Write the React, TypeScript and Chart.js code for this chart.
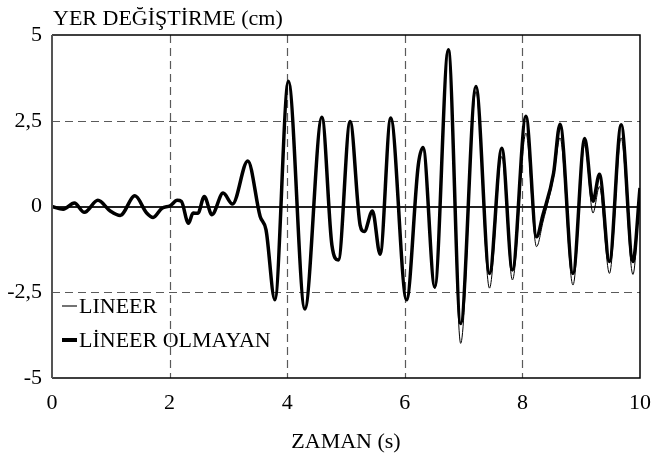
import React, { useEffect, useRef } from "react";
import { Chart, registerables } from "chart.js";

Chart.register(...registerables);

// Time (s)
const timeValues = [
  0, 0.19, 0.38, 0.55, 0.78, 0.99, 1.16, 1.41, 1.61, 1.72, 1.87, 2.01, 2.13, 2.2,
  2.32, 2.4, 2.48, 2.59, 2.72, 2.91, 3.07, 3.33, 3.54, 3.64, 3.79, 4.02, 4.3,
  4.59, 4.76, 4.87, 5.07, 5.24, 5.31, 5.45, 5.58, 5.76, 6.03, 6.23, 6.31, 6.51,
  6.74, 6.95, 7.21, 7.44, 7.65, 7.83, 8.06, 8.24, 8.35, 8.53, 8.64, 8.86, 9.06,
  9.2, 9.31, 9.48, 9.68, 9.88, 10.0,
];

// Nonlinear displacement (cm)
const nonlinearValues = [
  0, -0.08, 0.1, -0.17, 0.18, -0.13, -0.26, 0.31, -0.19, -0.32, -0.05, 0.02,
  0.18, 0.15, -0.49, -0.19, -0.2, 0.29, -0.24, 0.39, 0.07, 1.33, -0.29, -0.68,
  -2.72, 3.65, -2.99, 2.6, -1.12, -1.56, 2.48, -0.54, -0.73, -0.13, -1.39,
  2.58, -2.72, 1.22, 1.72, -2.34, 4.57, -3.41, 3.5, -1.95, 1.7, -1.85, 2.63,
  -0.88, -0.24, 0.97, 2.4, -1.95, 1.98, 0.15, 0.94, -1.6, 2.38, -1.6, 0.54,
];

// Linear displacement (cm)
const linearValues = [
  0, -0.08, 0.1, -0.17, 0.18, -0.13, -0.26, 0.31, -0.19, -0.32, -0.05, 0.02,
  0.18, 0.15, -0.49, -0.19, -0.2, 0.29, -0.24, 0.39, 0.07, 1.33, -0.29, -0.68,
  -2.72, 3.65, -2.99, 2.6, -1.12, -1.56, 2.48, -0.54, -0.73, -0.13, -1.39,
  2.58, -2.72, 1.22, 1.72, -2.4, 4.55, -3.99, 3.35, -2.38, 1.46, -2.14, 2.14,
  -1.17, -0.45, 0.85, 2.0, -2.29, 1.8, -0.19, 0.58, -1.95, 2.0, -1.98, 0.5,
];

const xTickValues = [0, 2, 4, 6, 8, 10];
const yTickValues = [-5, -2.5, 0, 2.5, 5];
const xGridValues = [2, 4, 6, 8];
const yGridValues = [-2.5, 2.5];

const seriesLabels = ["LINEER", "LİNEER OLMAYAN"];
const yAxisTitle = "YER DEĞİŞTİRME (cm)";
const xAxisTitle = "ZAMAN (s)";

const FONT = "'Liberation Serif', 'Times New Roman', serif";

const decorPlugin = {
  id: "decor",
  beforeDatasetsDraw(chart: any) {
    const { ctx, chartArea, scales } = chart;
    const xs = scales.x;
    const ys = scales.y;
    ctx.save();
    ctx.strokeStyle = "#5a5a5a";
    ctx.lineWidth = 1.2;
    ctx.setLineDash([8, 5]);
    for (const v of xGridValues) {
      const px = Math.round(xs.getPixelForValue(v)) + 0.5;
      ctx.beginPath();
      ctx.moveTo(px, chartArea.top);
      ctx.lineTo(px, chartArea.bottom);
      ctx.stroke();
    }
    for (const v of yGridValues) {
      const py = Math.round(ys.getPixelForValue(v)) + 0.5;
      ctx.beginPath();
      ctx.moveTo(chartArea.left, py);
      ctx.lineTo(chartArea.right, py);
      ctx.stroke();
    }
    ctx.setLineDash([]);
    const zy = Math.round(ys.getPixelForValue(0));
    ctx.strokeStyle = "#222";
    ctx.lineWidth = 2;
    ctx.beginPath();
    ctx.moveTo(chartArea.left, zy);
    ctx.lineTo(chartArea.right, zy);
    ctx.stroke();
    ctx.restore();
  },
  afterDatasetsDraw(chart: any) {
    const { ctx, chartArea } = chart;
    const { left, right, top, bottom } = chartArea;
    ctx.save();
    // box
    ctx.strokeStyle = "#000";
    ctx.lineWidth = 1.5;
    ctx.beginPath();
    ctx.moveTo(left, top);
    ctx.lineTo(right, top);
    ctx.lineTo(right, bottom);
    ctx.lineTo(left, bottom);
    ctx.stroke();
    ctx.strokeStyle = "#555";
    ctx.lineWidth = 2;
    ctx.beginPath();
    ctx.moveTo(left, top);
    ctx.lineTo(left, bottom);
    ctx.stroke();

    // y-axis title
    ctx.fillStyle = "#000";
    ctx.font = `22px ${FONT}`;
    ctx.textAlign = "left";
    ctx.textBaseline = "alphabetic";
    ctx.fillText(yAxisTitle, left + 1, 25);

    // legend
    ctx.textBaseline = "middle";
    const lx0 = left + 10;
    const lx1 = left + 25;
    const tx = left + 27;
    const y1 = bottom - 72;
    const y2 = bottom - 38;
    ctx.strokeStyle = "#444";
    ctx.lineWidth = 1.5;
    ctx.beginPath();
    ctx.moveTo(lx0, y1);
    ctx.lineTo(lx1, y1);
    ctx.stroke();
    ctx.fillText(seriesLabels[0], tx, y1 + 1);
    ctx.strokeStyle = "#000";
    ctx.lineWidth = 4;
    ctx.beginPath();
    ctx.moveTo(lx0, y2);
    ctx.lineTo(lx1, y2);
    ctx.stroke();
    ctx.fillText(seriesLabels[1], tx, y2 + 1);
    ctx.restore();
  },
};

export default function App() {
  const canvasRef = useRef<HTMLCanvasElement | null>(null);

  useEffect(() => {
    document.body.style.margin = "0";
    const canvas = canvasRef.current;
    if (!canvas) return;
    const chart = new Chart(canvas, {
      type: "line",
      data: {
        datasets: [
          {
            label: seriesLabels[0],
            data: timeValues.map((t, i) => ({ x: t, y: linearValues[i] })),
            borderColor: "#000",
            borderWidth: 1,
            pointRadius: 0,
            fill: false,
            cubicInterpolationMode: "monotone",
            order: 2,
          },
          {
            label: seriesLabels[1],
            data: timeValues.map((t, i) => ({ x: t, y: nonlinearValues[i] })),
            borderColor: "#000",
            borderWidth: 3.5,
            pointRadius: 0,
            fill: false,
            cubicInterpolationMode: "monotone",
            order: 1,
          },
        ],
      },
      options: {
        animation: false,
        responsive: false,
        maintainAspectRatio: false,
        layout: { padding: { left: 0, right: 14, top: 35, bottom: 0 } },
        plugins: {
          legend: { display: false },
          tooltip: { enabled: false },
          title: { display: false },
        },
        scales: {
          x: {
            type: "linear",
            min: 0,
            max: 10,
            afterBuildTicks: (scale: any) => {
              scale.ticks = xTickValues.map((v) => ({ value: v }));
            },
            afterFit: (scale: any) => {
              scale.height = 81;
              scale.paddingLeft = 0;
              scale.paddingRight = 0;
            },
            grid: { display: false, drawTicks: false },
            border: { display: false },
            ticks: {
              color: "#000",
              font: { family: FONT, size: 22 },
              padding: 12,
              maxRotation: 0,
              autoSkip: false,
            },
            title: {
              display: true,
              text: xAxisTitle,
              color: "#000",
              font: { family: FONT, size: 22 },
              padding: { top: 0, bottom: 4 },
            },
          },
          y: {
            type: "linear",
            min: -5,
            max: 5,
            afterBuildTicks: (scale: any) => {
              scale.ticks = yTickValues.map((v) => ({ value: v }));
            },
            afterFit: (scale: any) => {
              scale.width = 52;
              scale.paddingTop = 0;
              scale.paddingBottom = 0;
            },
            grid: { display: false, drawTicks: false },
            border: { display: false },
            ticks: {
              color: "#000",
              font: { family: FONT, size: 22 },
              padding: 10,
              autoSkip: false,
              callback: (v: any) => String(v).replace(".", ","),
            },
          },
        },
      },
      plugins: [decorPlugin],
    });
    return () => chart.destroy();
  }, []);

  return (
    <div style={{ position: "absolute", left: 0, top: 0, width: 654, height: 459 }}>
      <canvas ref={canvasRef} width={654} height={459} />
    </div>
  );
}
